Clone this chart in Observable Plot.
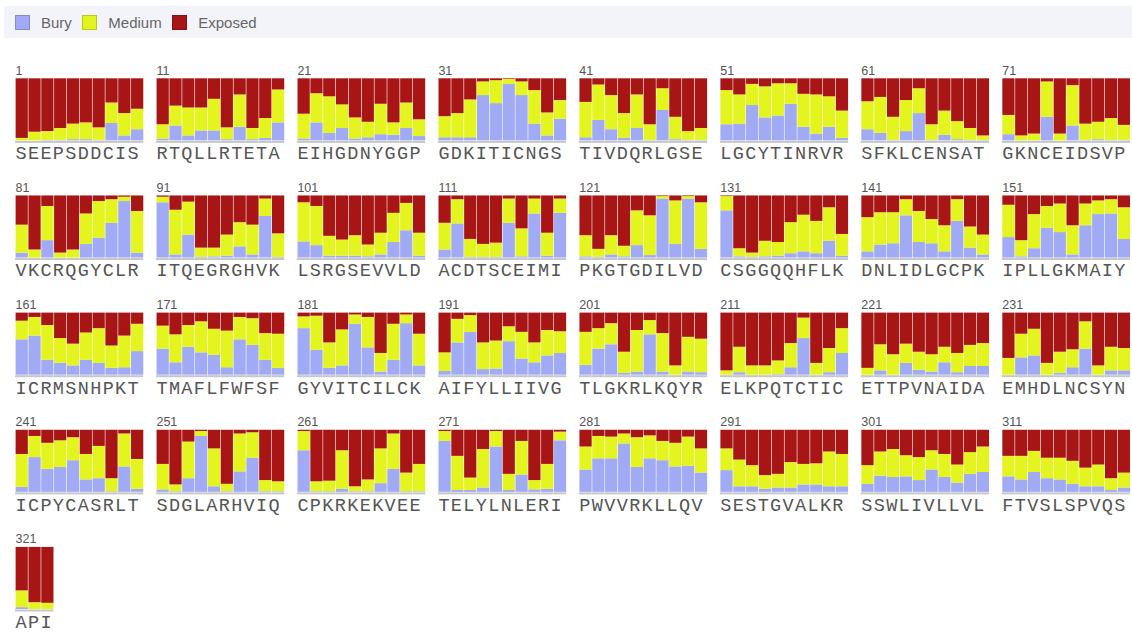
<!DOCTYPE html>
<html><head><meta charset="utf-8">
<script src="https://cdn.jsdelivr.net/npm/d3@7"></script>
<script src="https://cdn.jsdelivr.net/npm/@observablehq/plot@0.6"></script>
<style>
body{margin:0;background:#fff;font-family:"Liberation Sans",Arial,sans-serif;}
#legend{position:absolute;left:4px;top:6px;width:1128px;height:32px;background:#f3f4fa;display:flex;align-items:center;font-size:15px;color:#666;padding-left:11px;box-sizing:border-box;}
.item{display:flex;align-items:center;margin-right:10.5px}
.sw{width:13px;height:13px;border:1px solid rgba(0,0,0,.18);margin-right:11px;}
#chart{position:absolute;left:0;top:40px;}
g[font-family^="Liberation Mono"] text{letter-spacing:1.35px;}
</style></head><body>
<div id="legend"></div><div id="chart"></div>
<script>
const classes = ["Bury", "Medium", "Exposed"];
const colors = ["#a0aaf5", "#e3f41f", "#a71515"];
const sequence = "SEEPSDDCISRTQLLRTETAEIHGDNYGGPGDKITICNGSTIVDQRLGSELGCYTINRVRSFKLCENSATGKNCEIDSVPVKCRQGYCLRITQEGRGHVKLSRGSEVVLDACDTSCEIMIPKGTGDILVDCSGGQQHFLKDNLIDLGCPKIPLLGKMAIYICRMSNHPKTTMAFLFWFSFGYVITCILCKAIFYLLIIVGTLGKRLKQYRELKPQTCTICETTPVNAIDAEMHDLNCSYNICPYCASRLTSDGLARHVIQCPKRKEKVEETELYLNLERIPWVVRKLLQVSESTGVALKRSSWLIVLLVLFTVSLSPVQSAPI";

const bury = [
0,0,.01,.01,.02,.02,.01,.28,.08,.18,
.03,.24,.08,.16,.16,.02,.22,.02,.04,.29,
.03,.29,.12,.2,.03,.05,.1,.09,.2,.07,
.05,.05,.05,.73,.6,.91,.73,.27,.08,.35,
.05,.33,.18,.04,.2,.01,.49,.02,.01,.01,
.26,.27,.57,.37,.4,.59,.22,.11,.22,.04,
.18,.12,.01,.15,.44,.01,.09,.02,.01,.01,
.1,0,0,.38,0,.24,.01,.02,.01,.01,
.08,0,.28,0,0,.22,.32,.56,.91,.08,
.89,.05,.37,.01,.02,.03,.18,.05,.67,.01,
.26,.2,.03,.03,.03,.02,.05,.25,.44,.03,
.13,.55,.01,.01,.01,.56,.02,.71,.03,.72,
.02,.01,.05,.02,.2,.04,.95,.22,.95,.14,
.76,.02,.01,.02,.03,.07,.1,.07,.27,.03,
.1,.21,.23,.68,.25,.23,.1,.59,.16,.05,
.33,.02,.15,.48,.41,.05,.52,.7,.71,.3,
.57,.63,.24,.19,.15,.24,.19,.11,.12,.38,
.42,.2,.45,.36,.32,.12,.57,.48,.24,.11,
.75,.4,.11,.15,.82,.44,.05,.24,.83,.15,
.06,.52,.69,.09,.1,.54,.26,.2,.31,.35,
.16,.42,.49,.03,.05,.65,.05,0,.05,.04,
0,.04,0,0,.01,.12,.59,0,.04,.35,
0,.07,0,.19,.08,.05,.2,.04,.14,.14,
0,.28,.31,0,.03,.12,.42,0,.07,.07,
.08,.56,.37,.4,.51,.2,.22,.01,.41,.05,
.04,.01,.22,.9,.09,.01,.33,.55,.01,.01,
.67,.01,.01,.05,.01,.01,.14,.37,.01,.01,
.82,.03,.03,.07,.73,.03,.28,.04,.05,.83,
.36,.54,.54,.78,.4,.54,.51,.41,.42,.31,
.35,.09,.09,.05,.07,.07,.12,.12,.09,.09,
.13,.26,.24,.25,.19,.36,.24,.15,.29,.32,
.25,.2,.32,.22,.2,.13,.09,.09,.03,.07,
.03,0,0];

const medium = [
.04,.14,.14,.19,.25,.27,.2,.33,.36,.33,
.23,.32,.45,.37,.51,.19,.52,.18,.32,.53,
.4,.47,.59,.38,.34,.25,.49,.2,.41,.27,
.34,.39,.61,.22,.37,.08,.22,.54,.37,.3,
.57,.57,.55,.4,.54,.25,.35,.36,.14,.19,
.55,.47,.34,.5,.52,.33,.53,.63,.49,.44,
.45,.58,.37,.5,.4,.25,.39,.29,.19,.07,
.31,.08,.11,.57,.11,.65,.26,.28,.35,.24,
.45,.13,.55,.08,.13,.49,.59,.38,.07,.67,
.09,.72,.53,.15,.14,.34,.39,.48,.28,.38,
.63,.63,.32,.26,.33,.19,.35,.47,.44,.37,
.43,.39,.29,.21,.23,.39,.45,.24,.37,.23,
.34,.13,.31,.17,.56,.64,.04,.7,.04,.75,
.23,.13,.07,.25,.22,.5,.59,.52,.54,.35,
.55,.52,.5,.26,.5,.39,.42,.35,.34,.32,
.52,.26,.55,.35,.46,.47,.35,.22,.23,.51,
.3,.3,.56,.4,.35,.44,.56,.36,.51,.44,
.37,.45,.35,.5,.42,.59,.36,.43,.43,.55,
.19,.55,.41,.58,.15,.49,.3,.58,.14,.51,
.3,.38,.27,.43,.45,.24,.43,.32,.41,.35,
.53,.33,.34,.34,.67,.23,.62,.15,.56,.54,
.07,.41,.15,.15,.22,.39,.33,.19,.39,.4,
.11,.42,.33,.31,.29,.28,.25,.31,.34,.37,
.27,.38,.43,.19,.34,.29,.44,.15,.38,.36,
.53,.34,.42,.43,.37,.41,.52,.21,.53,.48,
.41,.11,.59,.08,.61,.12,.61,.41,.18,.16,
.31,.16,.17,.62,.08,.19,.56,.57,.3,.44,
.16,.55,.2,.62,.25,.26,.54,.15,.4,.14,
.37,.36,.35,.16,.48,.37,.31,.38,.47,.39,
.35,.43,.34,.22,.22,.41,.33,.34,.56,.52,
.3,.39,.45,.34,.37,.31,.37,.29,.35,.41,
.33,.38,.34,.33,.35,.37,.3,.35,.19,.24,
.27,.11,.1];

const exposed = [
.96,.86,.85,.8,.73,.71,.79,.39,.56,.49,
.74,.44,.47,.47,.33,.79,.26,.8,.64,.18,
.57,.24,.29,.42,.63,.7,.41,.71,.39,.66,
.61,.56,.34,.05,.03,.01,.05,.19,.55,.35,
.38,.1,.27,.56,.26,.74,.16,.62,.85,.8,
.19,.26,.09,.13,.08,.08,.25,.26,.29,.52,
.37,.3,.62,.35,.16,.74,.52,.69,.8,.92,
.59,.92,.89,.05,.89,.11,.73,.7,.64,.75,
.47,.87,.17,.92,.87,.29,.09,.06,.02,.25,
.02,.23,.1,.84,.84,.63,.43,.47,.05,.61,
.11,.17,.65,.71,.64,.79,.6,.28,.12,.6,
.44,.06,.7,.78,.76,.05,.53,.05,.6,.05,
.64,.86,.64,.81,.24,.32,.01,.08,.01,.11,
.01,.85,.92,.73,.75,.43,.31,.41,.19,.62,
.35,.27,.27,.06,.25,.38,.48,.06,.5,.63,
.15,.72,.3,.17,.13,.48,.13,.08,.06,.19,
.13,.07,.2,.41,.5,.32,.25,.53,.37,.18,
.21,.35,.2,.14,.26,.29,.07,.09,.33,.34,
.06,.05,.48,.27,.03,.07,.65,.18,.03,.34,
.64,.1,.04,.48,.45,.22,.31,.48,.28,.3,
.31,.25,.17,.63,.28,.12,.33,.85,.39,.42,
.93,.55,.85,.85,.77,.49,.08,.81,.57,.25,
.89,.51,.67,.5,.63,.67,.55,.65,.52,.49,
.73,.34,.26,.81,.63,.59,.14,.85,.55,.57,
.39,.1,.21,.17,.12,.39,.26,.78,.06,.47,
.55,.88,.19,.02,.3,.87,.06,.04,.81,.83,
.02,.83,.82,.33,.91,.8,.3,.06,.69,.55,
.02,.42,.77,.31,.02,.71,.18,.81,.55,.03,
.27,.1,.11,.06,.12,.09,.18,.21,.11,.3,
.3,.48,.57,.73,.71,.52,.55,.54,.35,.39,
.57,.35,.31,.41,.44,.33,.39,.56,.36,.27,
.42,.42,.34,.45,.45,.5,.61,.56,.78,.69,
.7,.89,.9];

const perBlock = 10, blocksPerRow = 8;
const series = [bury, medium, exposed];

// legend
const legend = document.getElementById("legend");
classes.forEach((c, k) => {
  const item = document.createElement("div");
  item.className = "item";
  const sw = document.createElement("span");
  sw.className = "sw";
  sw.style.background = colors[k];
  item.appendChild(sw);
  item.appendChild(document.createTextNode(c));
  legend.appendChild(item);
});

const rows = [];
sequence.split("").forEach((aa, i) => {
  const block = Math.floor(i / perBlock);
  const base = {i, pos: i % perBlock, col: block % blocksPerRow, row: Math.floor(block / blocksPerRow), aa};
  classes.forEach((cls, k) => rows.push({...base, cls, value: series[k][i]}));
});
const residues = rows.filter(d => d.cls === "Bury");
const blocks = d3.range(Math.ceil(sequence.length / perBlock)).map(b => ({
  col: b % blocksPerRow, row: Math.floor(b / blocksPerRow),
  start: b * perBlock + 1, seq: sequence.slice(b * perBlock, b * perBlock + perBlock)
}));

const chart = Plot.plot({
  width: 1132, height: 593,
  marginTop: 38, marginBottom: 24, marginLeft: 15, marginRight: 2,
  fx: {domain: d3.range(blocksPerRow), range: [15, 1130], round: false, paddingInner: 0.09, paddingOuter: 0, axis: null, label: null},
  fy: {domain: d3.range(5), range: [38.3, 569], round: false, paddingInner: 0.47, paddingOuter: 0, axis: null, label: null},
  x: {domain: d3.range(perBlock), round: false, padding: 0, axis: null},
  y: {domain: [0, 1], axis: null},
  color: {domain: classes, range: colors},
  style: {background: "transparent"},
  marks: [
    Plot.barY(rows, {fx: "col", fy: "row", x: "pos", y: "value", fill: "cls", z: "cls", order: classes, insetLeft: 0.6}),
    Plot.tickY(residues, {fx: "col", fy: "row", x: "pos", y: d => 0, stroke: "#c6c6c6", strokeWidth: 2, dy: 1}),
    Plot.text(blocks, {fx: "col", fy: "row", text: d => String(d.start), frameAnchor: "top-left", textAnchor: "start", lineAnchor: "bottom", dy: -4, dx: 0, fontSize: 12.5, fill: "#555", fontFamily: "Liberation Sans, Arial, sans-serif"}),
    Plot.text(blocks, {fx: "col", fy: "row", text: "seq", frameAnchor: "bottom-left", textAnchor: "start", lineAnchor: "middle", dy: 12.5, fontSize: 18.5, fill: "#555", fontFamily: "Liberation Mono, Courier New, monospace"})
  ]
});
document.getElementById("chart").appendChild(chart);
</script>
</body></html>
